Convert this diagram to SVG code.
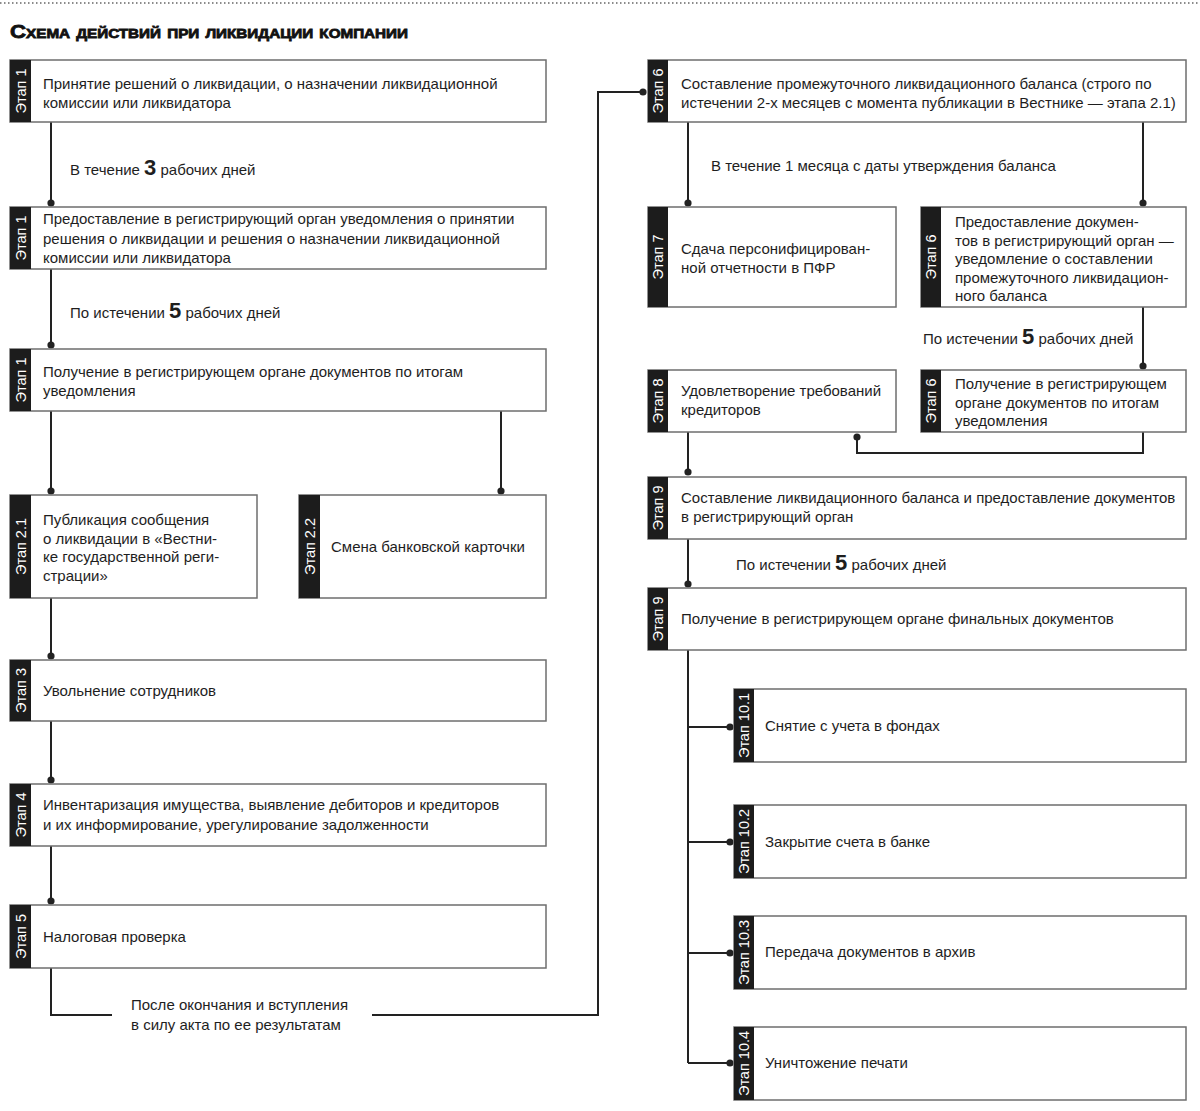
<svg xmlns="http://www.w3.org/2000/svg" width="1200" height="1111" viewBox="0 0 1200 1111">
<style>
.bg{fill:#fff}
.box{fill:#fff;stroke:#6e6e6e;stroke-width:1.5}
.strip{fill:#1c1c1c}
.stg{font-family:"Liberation Sans","DejaVu Sans",sans-serif;font-size:14.5px;fill:#fff;text-anchor:middle;dominant-baseline:central}
.t{font-family:"Liberation Sans","DejaVu Sans",sans-serif;font-size:15px;fill:#1e1e1e}
.lbl{font-family:"Liberation Sans","DejaVu Sans",sans-serif;font-size:15px;fill:#1e1e1e}
.num{font-weight:bold;font-size:22px}
.con{fill:none;stroke:#222;stroke-width:2}
.dot{fill:#222}
.title{font-family:"Liberation Sans","DejaVu Sans",sans-serif;font-size:19px;font-weight:bold;font-variant:small-caps;fill:#111;stroke:#111;stroke-width:0.8}
</style>
<rect class="bg" x="0" y="0" width="1200" height="1111"/>
<line x1="0" y1="3" x2="1200" y2="3" stroke="#666" stroke-width="1.5" stroke-dasharray="1.5 2.5"/>
<text class="title" x="10" y="38" textLength="398" lengthAdjust="spacingAndGlyphs">Схема действий при ликвидации компании</text>

<g id="connectors">
<path class="con" d="M51 122V203M51 269V345M51 411V491M501 411V491M51 598V656M51 721V780M51 846V901"/>
<path class="con" d="M51 968V1015H112M372 1015H598V92H643"/>
<path class="con" d="M688 122V203M1143 122V203M1143 307V366M1143 432V453H857V437M688 432V472M688 539V584"/>
<path class="con" d="M688 650V1063M688 727H730M688 842H730M688 953H730M688 1063H730"/>
<circle class="dot" cx="51" cy="203" r="3.6"/>
<circle class="dot" cx="51" cy="345" r="3.6"/>
<circle class="dot" cx="51" cy="491" r="3.6"/>
<circle class="dot" cx="501" cy="491" r="3.6"/>
<circle class="dot" cx="51" cy="656" r="3.6"/>
<circle class="dot" cx="51" cy="780" r="3.6"/>
<circle class="dot" cx="51" cy="901" r="3.6"/>
<circle class="dot" cx="643" cy="92" r="3.6"/>
<circle class="dot" cx="688" cy="203" r="3.6"/>
<circle class="dot" cx="1143" cy="203" r="3.6"/>
<circle class="dot" cx="1143" cy="366" r="3.6"/>
<circle class="dot" cx="857" cy="437" r="3.6"/>
<circle class="dot" cx="688" cy="472" r="3.6"/>
<circle class="dot" cx="688" cy="584" r="3.6"/>
<circle class="dot" cx="730" cy="727" r="3.6"/>
<circle class="dot" cx="730" cy="842" r="3.6"/>
<circle class="dot" cx="730" cy="953" r="3.6"/>
<circle class="dot" cx="730" cy="1063" r="3.6"/>
<text class="lbl" x="70" y="175">В течение <tspan class="num">3</tspan> рабочих дней</text>
<text class="lbl" x="70" y="318">По истечении <tspan class="num">5</tspan> рабочих дней</text>
<text class="lbl" x="711" y="171">В течение 1 месяца с даты утверждения баланса</text>
<text class="lbl" x="923" y="344">По истечении <tspan class="num">5</tspan> рабочих дней</text>
<text class="lbl" x="736" y="570">По истечении <tspan class="num">5</tspan> рабочих дней</text>
<text class="lbl" x="131" y="1010">После окончания и вступления</text>
<text class="lbl" x="131" y="1030">в силу акта по ее результатам</text>
</g>

<g id="n1">
<rect class="box" x="10" y="60" width="536" height="62"/>
<rect class="strip" x="10" y="60" width="21" height="62"/>
<text class="stg" transform="translate(20.5 91) rotate(-90)">Этап 1</text>
<text class="t" x="43" y="89">Принятие решений о ликвидации, о назначении ликвидационной</text>
<text class="t" x="43" y="108">комиссии или ликвидатора</text>
</g>
<g id="n2">
<rect class="box" x="10" y="207" width="536" height="62"/>
<rect class="strip" x="10" y="207" width="21" height="62"/>
<text class="stg" transform="translate(20.5 238) rotate(-90)">Этап 1</text>
<text class="t" x="43" y="224">Предоставление в регистрирующий орган уведомления о принятии</text>
<text class="t" x="43" y="244">решения о ликвидации и решения о назначении ликвидационной</text>
<text class="t" x="43" y="263">комиссии или ликвидатора</text>
</g>
<g id="n3">
<rect class="box" x="10" y="349" width="536" height="62"/>
<rect class="strip" x="10" y="349" width="21" height="62"/>
<text class="stg" transform="translate(20.5 380) rotate(-90)">Этап 1</text>
<text class="t" x="43" y="377">Получение в регистрирующем органе документов по итогам</text>
<text class="t" x="43" y="396">уведомления</text>
</g>
<g id="n21">
<rect class="box" x="10" y="495" width="247" height="103"/>
<rect class="strip" x="10" y="495" width="21" height="103"/>
<text class="stg" transform="translate(20.5 546.5) rotate(-90)">Этап 2.1</text>
<text class="t" x="43" y="525">Публикация сообщения</text>
<text class="t" x="43" y="544">о ликвидации в «Вестни-</text>
<text class="t" x="43" y="562">ке государственной реги-</text>
<text class="t" x="43" y="581">страции»</text>
</g>
<g id="n22">
<rect class="box" x="299" y="495" width="247" height="103"/>
<rect class="strip" x="299" y="495" width="21" height="103"/>
<text class="stg" transform="translate(309.5 546.5) rotate(-90)">Этап 2.2</text>
<text class="t" x="331" y="552">Смена банковской карточки</text>
</g>
<g id="n3b">
<rect class="box" x="10" y="660" width="536" height="61"/>
<rect class="strip" x="10" y="660" width="21" height="61"/>
<text class="stg" transform="translate(20.5 690.5) rotate(-90)">Этап 3</text>
<text class="t" x="43" y="696">Увольнение сотрудников</text>
</g>
<g id="n4">
<rect class="box" x="10" y="784" width="536" height="62"/>
<rect class="strip" x="10" y="784" width="21" height="62"/>
<text class="stg" transform="translate(20.5 815) rotate(-90)">Этап 4</text>
<text class="t" x="43" y="810">Инвентаризация имущества, выявление дебиторов и кредиторов</text>
<text class="t" x="43" y="830">и их информирование, урегулирование задолженности</text>
</g>
<g id="n5">
<rect class="box" x="10" y="905" width="536" height="63"/>
<rect class="strip" x="10" y="905" width="21" height="63"/>
<text class="stg" transform="translate(20.5 936.5) rotate(-90)">Этап 5</text>
<text class="t" x="43" y="942">Налоговая проверка</text>
</g>

<g id="r1">
<rect class="box" x="648" y="60" width="538" height="62"/>
<rect class="strip" x="648" y="60" width="20" height="62"/>
<text class="stg" transform="translate(658 91) rotate(-90)">Этап 6</text>
<text class="t" x="681" y="89">Составление промежуточного ликвидационного баланса (строго по</text>
<text class="t" x="681" y="108">истечении 2-х месяцев с момента публикации в Вестнике — этапа 2.1)</text>
</g>
<g id="r7">
<rect class="box" x="648" y="207" width="248" height="100"/>
<rect class="strip" x="648" y="207" width="20" height="100"/>
<text class="stg" transform="translate(658 257) rotate(-90)">Этап 7</text>
<text class="t" x="681" y="254">Сдача персонифицирован-</text>
<text class="t" x="681" y="273">ной отчетности в ПФР</text>
</g>
<g id="r6b">
<rect class="box" x="921" y="207" width="265" height="100"/>
<rect class="strip" x="921" y="207" width="20" height="100"/>
<text class="stg" transform="translate(931 257) rotate(-90)">Этап 6</text>
<text class="t" x="955" y="227">Предоставление докумен-</text>
<text class="t" x="955" y="246">тов в регистрирующий орган —</text>
<text class="t" x="955" y="264">уведомление о составлении</text>
<text class="t" x="955" y="283">промежуточного ликвидацион-</text>
<text class="t" x="955" y="301">ного баланса</text>
</g>
<g id="r8">
<rect class="box" x="648" y="370" width="248" height="62"/>
<rect class="strip" x="648" y="370" width="20" height="62"/>
<text class="stg" transform="translate(658 401) rotate(-90)">Этап 8</text>
<text class="t" x="681" y="396">Удовлетворение требований</text>
<text class="t" x="681" y="415">кредиторов</text>
</g>
<g id="r6c">
<rect class="box" x="921" y="370" width="265" height="62"/>
<rect class="strip" x="921" y="370" width="20" height="62"/>
<text class="stg" transform="translate(931 401) rotate(-90)">Этап 6</text>
<text class="t" x="955" y="389">Получение в регистрирующем</text>
<text class="t" x="955" y="408">органе документов по итогам</text>
<text class="t" x="955" y="426">уведомления</text>
</g>
<g id="r9a">
<rect class="box" x="648" y="477" width="538" height="62"/>
<rect class="strip" x="648" y="477" width="20" height="62"/>
<text class="stg" transform="translate(658 508) rotate(-90)">Этап 9</text>
<text class="t" x="681" y="503">Составление ликвидационного баланса и предоставление документов</text>
<text class="t" x="681" y="522">в регистрирующий орган</text>
</g>
<g id="r9b">
<rect class="box" x="648" y="588" width="538" height="62"/>
<rect class="strip" x="648" y="588" width="20" height="62"/>
<text class="stg" transform="translate(658 619) rotate(-90)">Этап 9</text>
<text class="t" x="681" y="624">Получение в регистрирующем органе финальных документов</text>
</g>
<g id="r101">
<rect class="box" x="734" y="689" width="452" height="73"/>
<rect class="strip" x="734" y="689" width="20" height="73"/>
<text class="stg" transform="translate(744 725.5) rotate(-90)">Этап 10.1</text>
<text class="t" x="765" y="731">Снятие с учета в фондах</text>
</g>
<g id="r102">
<rect class="box" x="734" y="805" width="452" height="73"/>
<rect class="strip" x="734" y="805" width="20" height="73"/>
<text class="stg" transform="translate(744 841.5) rotate(-90)">Этап 10.2</text>
<text class="t" x="765" y="847">Закрытие счета в банке</text>
</g>
<g id="r103">
<rect class="box" x="734" y="916" width="452" height="73"/>
<rect class="strip" x="734" y="916" width="20" height="73"/>
<text class="stg" transform="translate(744 952.5) rotate(-90)">Этап 10.3</text>
<text class="t" x="765" y="957">Передача документов в архив</text>
</g>
<g id="r104">
<rect class="box" x="734" y="1027" width="452" height="73"/>
<rect class="strip" x="734" y="1027" width="20" height="73"/>
<text class="stg" transform="translate(744 1063.5) rotate(-90)">Этап 10.4</text>
<text class="t" x="765" y="1068">Уничтожение печати</text>
</g>
</svg>
